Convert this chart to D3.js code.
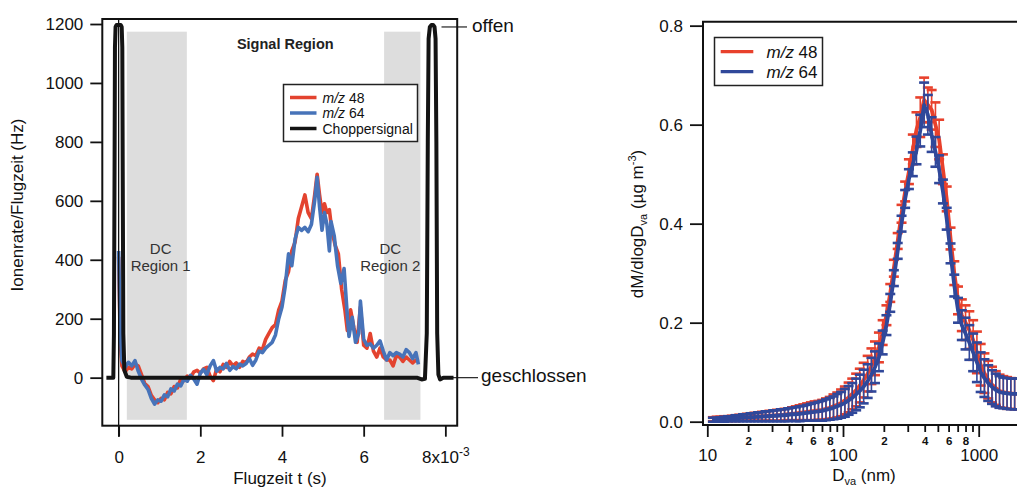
<!DOCTYPE html>
<html><head><meta charset="utf-8">
<script src="https://cdn.jsdelivr.net/npm/d3@7"></script>
<style>
body{margin:0;background:#fff}
svg{display:block}
text{font-family:"Liberation Sans",Arial,sans-serif;fill:#111}
</style>
</head><body>
<svg id="c" width="1017" height="487"></svg>
<script>
// ---------- LEFT PANEL DATA (Flugzeit in 1e-3 s, Ionenrate in Hz) ----------
const ionTicks = [0, 200, 400, 600, 800, 1000, 1200];
const timeTicks = [0, 2, 4, 6, 8];
const dcRegions = [
  {label1: "DC", label2: "Region 1", t0: 0.2, t1: 1.67},
  {label1: "DC", label2: "Region 2", t0: 6.5, t1: 7.39}
];
const mz48Trace = [[0,410],[0.04,120],[0.08,40],[0.16,20],[0.24,35],[0.32,30],[0.40,45],[0.48,40],[0.56,10],[0.64,-20],[0.72,-30],[0.80,-60],[0.88,-75],[0.96,-85],[1.04,-70],[1.12,-75],[1.20,-50],[1.28,-55],[1.36,-30],[1.44,-35],[1.52,-5],[1.60,-10],[1.68,5],[1.76,0],[1.84,20],[1.92,25],[2.00,15],[2.08,30],[2.16,35],[2.24,5],[2.32,-10],[2.40,30],[2.48,20],[2.56,45],[2.64,35],[2.72,55],[2.80,40],[2.88,50],[2.96,35],[3.04,55],[3.12,50],[3.20,70],[3.28,80],[3.36,75],[3.44,100],[3.52,95],[3.60,130],[3.68,150],[3.76,170],[3.84,180],[3.92,230],[4.00,260],[4.08,330],[4.16,360],[4.24,430],[4.32,460],[4.40,540],[4.48,580],[4.56,620],[4.64,560],[4.72,540],[4.80,620],[4.86,690],[4.92,620],[4.98,560],[5.04,590],[5.10,560],[5.16,570],[5.22,500],[5.30,450],[5.38,420],[5.46,300],[5.54,230],[5.60,160],[5.68,230],[5.76,170],[5.84,120],[5.92,240],[6.00,110],[6.08,100],[6.16,150],[6.24,90],[6.32,70],[6.40,100],[6.48,70],[6.56,60],[6.64,60],[6.72,40],[6.80,75],[6.88,70],[6.96,55],[7.04,70],[7.12,60],[7.20,50],[7.28,60],[7.34,55]];
const mz64Trace = [[0,430],[0.04,150],[0.08,58],[0.16,35],[0.24,52],[0.32,40],[0.40,58],[0.48,22],[0.56,-5],[0.64,-25],[0.72,-40],[0.80,-70],[0.88,-90],[0.96,-75],[1.04,-80],[1.12,-58],[1.20,-65],[1.28,-38],[1.36,-45],[1.44,-22],[1.52,-28],[1.60,-5],[1.68,-12],[1.76,8],[1.84,-5],[1.92,-22],[2.00,15],[2.08,28],[2.16,10],[2.24,40],[2.32,58],[2.40,22],[2.48,35],[2.56,30],[2.64,48],[2.72,25],[2.80,38],[2.88,30],[2.96,46],[3.04,40],[3.12,48],[3.20,65],[3.28,42],[3.36,60],[3.44,90],[3.52,85],[3.60,100],[3.68,110],[3.76,120],[3.84,145],[3.92,200],[4.00,240],[4.08,310],[4.16,420],[4.24,380],[4.32,470],[4.40,510],[4.48,500],[4.56,510],[4.64,495],[4.72,520],[4.80,600],[4.86,680],[4.92,580],[4.98,500],[5.04,560],[5.10,520],[5.16,430],[5.20,530],[5.28,480],[5.36,380],[5.44,320],[5.52,370],[5.60,210],[5.64,140],[5.72,205],[5.80,120],[5.88,150],[5.92,260],[6.00,130],[6.08,110],[6.16,115],[6.24,100],[6.32,110],[6.40,125],[6.48,90],[6.56,60],[6.64,85],[6.72,75],[6.80,85],[6.88,80],[6.96,70],[7.04,95],[7.12,85],[7.20,65],[7.28,85],[7.34,45]];
const chopperTrace = [[-0.3,0],[-0.13,0],[-0.115,150],[-0.1,700],[-0.09,1120],[-0.075,1190],[-0.05,1197],[0.05,1197],[0.075,1190],[0.09,1120],[0.1,700],[0.115,150],[0.14,25],[0.2,3],[0.3,0],[7.3,0],[7.42,-6],[7.5,-4],[7.545,150],[7.57,800],[7.59,1150],[7.62,1190],[7.66,1197],[7.7,1197],[7.735,1190],[7.76,1150],[7.78,800],[7.8,150],[7.83,10],[7.87,-6],[7.95,0],[8.2,0]];
const chopperEdgeT = 0;
const offenLevel = 1190;
const geschlossenLevel = 0;

// ---------- RIGHT PANEL DATA ----------
const dva = [11,11.73,12.5,13.33,14.21,15.15,16.15,17.22,18.35,19.57,20.86,22.24,23.7,25.3,26.9,28.7,30.6,32.6,34.8,37.1,39.5,42.1,44.9,47.9,51.0,54.4,58.0,61.8,65.9,70.3,74.9,79.9,85.1,90.8,96.8,103.2,110,117,125,133,142,152,162,172,184,196,209,223,237,253,270,287,306,327,348,371,396,422,450,480,511,545,581,620,661,704,751,800,853,910,970,1034,1102,1175,1253,1336,1424,1518,1618,1725,1840,1961,2090];
const mz64Mean = [0.004,0.004,0.005,0.005,0.006,0.006,0.007,0.007,0.008,0.008,0.009,0.009,0.010,0.010,0.011,0.011,0.012,0.012,0.013,0.013,0.014,0.015,0.015,0.016,0.017,0.018,0.019,0.020,0.021,0.022,0.024,0.026,0.028,0.031,0.034,0.038,0.043,0.048,0.055,0.062,0.071,0.082,0.095,0.110,0.130,0.160,0.195,0.240,0.290,0.345,0.400,0.450,0.490,0.520,0.548,0.588,0.640,0.620,0.580,0.545,0.510,0.465,0.410,0.340,0.275,0.225,0.195,0.178,0.160,0.140,0.120,0.100,0.088,0.078,0.070,0.064,0.060,0.058,0.057,0.056,0.056,0.056,0.056];
const mz64Err = [0.004,0.004,0.004,0.005,0.005,0.005,0.006,0.006,0.007,0.007,0.008,0.008,0.009,0.009,0.010,0.010,0.011,0.011,0.012,0.012,0.013,0.013,0.014,0.015,0.015,0.016,0.017,0.018,0.019,0.020,0.021,0.022,0.023,0.025,0.026,0.028,0.029,0.030,0.032,0.033,0.034,0.034,0.034,0.032,0.028,0.024,0.020,0.018,0.016,0.016,0.016,0.018,0.020,0.024,0.028,0.032,0.045,0.040,0.035,0.030,0.028,0.024,0.022,0.020,0.022,0.025,0.030,0.032,0.035,0.038,0.040,0.040,0.038,0.036,0.034,0.033,0.032,0.031,0.031,0.031,0.031,0.031,0.031];
const mz48Mean = [0.005,0.005,0.006,0.006,0.006,0.007,0.007,0.008,0.008,0.009,0.009,0.010,0.010,0.011,0.011,0.012,0.012,0.013,0.013,0.014,0.015,0.016,0.017,0.018,0.019,0.020,0.021,0.022,0.023,0.024,0.026,0.028,0.031,0.034,0.038,0.043,0.049,0.056,0.064,0.073,0.084,0.097,0.112,0.128,0.150,0.180,0.215,0.260,0.310,0.365,0.420,0.465,0.505,0.550,0.590,0.615,0.650,0.640,0.630,0.600,0.570,0.510,0.450,0.370,0.300,0.245,0.215,0.200,0.185,0.165,0.140,0.115,0.098,0.085,0.075,0.068,0.062,0.060,0.058,0.057,0.056,0.056,0.056];
const mz48Err = [0.004,0.005,0.004,0.005,0.005,0.005,0.006,0.006,0.006,0.007,0.007,0.008,0.008,0.009,0.009,0.010,0.010,0.011,0.011,0.012,0.012,0.013,0.014,0.015,0.016,0.017,0.018,0.019,0.019,0.020,0.021,0.022,0.024,0.025,0.027,0.028,0.030,0.031,0.033,0.034,0.035,0.036,0.036,0.034,0.030,0.025,0.020,0.018,0.017,0.016,0.018,0.020,0.025,0.030,0.035,0.040,0.045,0.035,0.040,0.045,0.040,0.030,0.025,0.022,0.024,0.028,0.032,0.035,0.038,0.040,0.042,0.042,0.040,0.038,0.036,0.034,0.033,0.032,0.032,0.031,0.031,0.031,0.031];
const massTicks = [0.0, 0.2, 0.4, 0.6, 0.8];
const dvaMajorTicks = [10, 100, 1000];
const dvaMinorTicks = [20,30,40,50,60,70,80,90,200,300,400,500,600,700,800,900];

// ---------- COLORS ----------
const colL48 = "#e3432f", colL64 = "#4773b9";
const colR48 = "#e8412c", colR64 = "#30489a";
const grayRegion = "#dddddd";

const svg = d3.select("#c");

// ================= LEFT PANEL =================
const L = {x0: 102.3, x1: 457.2, y0: 19, y1: 425.7};
const xL = d3.scaleLinear().domain([-0.4, 8.29]).range([L.x0, L.x1]);
const yL = d3.scaleLinear().domain([-163, 1217]).range([L.y1, L.y0]);

const gl = svg.append("g");

gl.selectAll("rect.dc").data(dcRegions).join("rect")
  .attr("x", d => xL(d.t0)).attr("width", d => xL(d.t1) - xL(d.t0))
  .attr("y", yL(1174)).attr("height", yL(-143) - yL(1174))
  .attr("fill", grayRegion);

const dcText = gl.selectAll("g.dct").data(dcRegions).join("g");
dcText.append("text").attr("x", (d,i) => i === 0 ? xL(1.03) : xL(6.65)).attr("y", yL(420))
  .attr("text-anchor", "middle").attr("font-size", 15).style("fill", "#333").text(d => d.label1);
dcText.append("text").attr("x", (d,i) => i === 0 ? xL(1.03) : xL(6.65)).attr("y", yL(362))
  .attr("text-anchor", "middle").attr("font-size", 15).style("fill", "#333").text(d => d.label2);

gl.append("text").attr("x", xL(4.08)).attr("y", yL(1115)).attr("text-anchor", "middle")
  .attr("font-size", 14.5).attr("font-weight", "bold").style("fill", "#222").text("Signal Region");

const lineL = d3.line().x(d => xL(d[0])).y(d => yL(d[1]));
gl.append("path").datum(mz48Trace).attr("d", lineL).attr("fill", "none")
  .attr("stroke", colL48).attr("stroke-width", 3.6).attr("stroke-linejoin", "round");
gl.append("path").datum(mz64Trace).attr("d", lineL).attr("fill", "none")
  .attr("stroke", colL64).attr("stroke-width", 3.6).attr("stroke-linejoin", "round");

gl.append("line").attr("x1", xL(chopperEdgeT)).attr("x2", xL(chopperEdgeT))
  .attr("y1", L.y0).attr("y2", L.y1 + 11).attr("stroke", "#111").attr("stroke-width", 1.3);

gl.append("line").attr("x1", xL(8.1)).attr("x2", 478).attr("y1", yL(geschlossenLevel)).attr("y2", yL(geschlossenLevel))
  .attr("stroke", "#222").attr("stroke-width", 1.2);
gl.append("line").attr("x1", 441.5).attr("x2", 467).attr("y1", yL(offenLevel)).attr("y2", yL(offenLevel))
  .attr("stroke", "#222").attr("stroke-width", 1.2);

gl.append("path").datum(chopperTrace).attr("d", d3.line().x(d => xL(d[0])).y(d => yL(d[1])))
  .attr("fill", "none").attr("stroke", "#141414").attr("stroke-width", 4).attr("stroke-linejoin", "round");

gl.append("rect").attr("x", L.x0).attr("y", L.y0).attr("width", L.x1 - L.x0).attr("height", L.y1 - L.y0)
  .attr("fill", "none").attr("stroke", "#111").attr("stroke-width", 2);

const yAxL = gl.append("g").attr("transform", `translate(${L.x0},0)`)
  .call(d3.axisLeft(yL).tickValues(ionTicks).tickSize(12).tickPadding(7).tickFormat(d3.format("d")));
const xAxL = gl.append("g").attr("transform", `translate(0,${L.y1})`)
  .call(d3.axisBottom(xL).tickValues(timeTicks).tickSize(11).tickPadding(14).tickFormat(d3.format("d")));
[yAxL, xAxL].forEach(a => {
  a.select(".domain").remove();
  a.selectAll(".tick line").attr("stroke", "#111").attr("stroke-width", 1.8);
  a.selectAll(".tick text").attr("font-size", 17).attr("font-family", "Liberation Sans, Arial, sans-serif").style("fill", "#111");
});
xAxL.selectAll(".tick text").filter(d => d === 8).each(function() {
  const t = d3.select(this); t.text(null);
  t.append("tspan").text("8x10");
  t.append("tspan").attr("dy", -7).attr("font-size", 12).text("-3");
});

gl.append("text").attr("transform", "translate(23,205) rotate(-90)").attr("text-anchor", "middle")
  .attr("font-size", 17).text("Ionenrate/Flugzeit (Hz)");
gl.append("text").attr("x", 280).attr("y", 484).attr("text-anchor", "middle")
  .attr("font-size", 17).text("Flugzeit t (s)");
gl.append("text").attr("x", 472).attr("y", 32).attr("font-size", 19).text("offen");
gl.append("text").attr("x", 481).attr("y", 382).attr("font-size", 19).text("geschlossen");

const legL = gl.append("g");
legL.append("rect").attr("x", 283.5).attr("y", 84.5).attr("width", 134).attr("height", 57)
  .attr("fill", "#fff").attr("stroke", "#222").attr("stroke-width", 1.5);
const legItems = [
  {c: colL48, it: "m/z", rest: " 48"},
  {c: colL64, it: "m/z", rest: " 64"},
  {c: "#141414", it: "", rest: "Choppersignal"}
];
legItems.forEach((d, i) => {
  const y = 97.5 + i * 15.5;
  legL.append("line").attr("x1", 290).attr("x2", 316.5).attr("y1", y).attr("y2", y)
    .attr("stroke", d.c).attr("stroke-width", 3.5);
  const t = legL.append("text").attr("x", 322.5).attr("y", y + 5).attr("font-size", 14);
  if (d.it) t.append("tspan").attr("font-style", "italic").text(d.it);
  t.append("tspan").text(d.rest);
});

// ================= RIGHT PANEL =================
const R = {x0: 703, x1: 1040, y0: 21.7, y1: 425};
const xR = d3.scaleLog().domain([10, 1000]).range([707.3, 978.7]);
const yR = d3.scaleLinear().domain([-0.0067, 0.808]).range([R.y1, R.y0]);
const gr = svg.append("g");

function drawSeries(mean, err, col) {
  const g = gr.append("g");
  const pts = dva.map((d, i) => ({d, m: mean[i], e: err[i]}));
  g.selectAll("line.eb").data(pts).join("line")
    .attr("x1", p => xR(p.d)).attr("x2", p => xR(p.d))
    .attr("y1", p => yR(p.m - p.e)).attr("y2", p => yR(p.m + p.e))
    .attr("stroke", col).attr("stroke-width", 1.6);
  g.selectAll("line.cu").data(pts).join("line")
    .attr("x1", p => xR(p.d) - 5).attr("x2", p => xR(p.d) + 5)
    .attr("y1", p => yR(p.m + p.e)).attr("y2", p => yR(p.m + p.e))
    .attr("stroke", col).attr("stroke-width", 2.6);
  g.selectAll("line.cl").data(pts).join("line")
    .attr("x1", p => xR(p.d) - 5).attr("x2", p => xR(p.d) + 5)
    .attr("y1", p => yR(p.m - p.e)).attr("y2", p => yR(p.m - p.e))
    .attr("stroke", col).attr("stroke-width", 2.6);
  g.append("path").datum(pts).attr("d", d3.line().x(p => xR(p.d)).y(p => yR(p.m)))
    .attr("fill", "none").attr("stroke", col).attr("stroke-width", 3.8).attr("stroke-linejoin", "round");
}
drawSeries(mz48Mean, mz48Err, colR48);
drawSeries(mz64Mean, mz64Err, colR64);

gr.append("path").attr("d", `M${R.x1},${R.y0}H${R.x0}V${R.y1}H${R.x1}`)
  .attr("fill", "none").attr("stroke", "#111").attr("stroke-width", 2);

const yAxR = gr.append("g").attr("transform", `translate(${R.x0},0)`)
  .call(d3.axisLeft(yR).tickValues(massTicks).tickSize(13).tickPadding(7).tickFormat(d3.format(".1f")));
const xAxRMaj = gr.append("g").attr("transform", `translate(0,${R.y1})`)
  .call(d3.axisBottom(xR).tickValues(dvaMajorTicks).tickSize(12).tickPadding(12).tickFormat(d3.format("d")));
const xAxRMin = gr.append("g").attr("transform", `translate(0,${R.y1})`)
  .call(d3.axisBottom(xR).tickValues(dvaMinorTicks).tickSize(7).tickPadding(5)
    .tickFormat(d => { const f = Math.round(d / Math.pow(10, Math.floor(Math.log10(d) + 1e-9))); return [2,4,6,8].includes(f) ? String(f) : ""; }));
[yAxR, xAxRMaj, xAxRMin].forEach(a => {
  a.select(".domain").remove();
  a.selectAll(".tick line").attr("stroke", "#111").attr("stroke-width", 1.8);
  a.selectAll(".tick text").attr("font-size", 17).attr("font-family", "Liberation Sans, Arial, sans-serif").style("fill", "#111");
});
xAxRMin.selectAll(".tick text").attr("font-size", 11.5).attr("font-weight", "bold");

const ylab = gr.append("text").attr("transform", "translate(643,224) rotate(-90)").attr("text-anchor", "middle").attr("font-size", 17);
ylab.append("tspan").text("dM/dlogD");
ylab.append("tspan").attr("font-size", 11).attr("dy", 4).text("va");
ylab.append("tspan").attr("dy", -4).text(" (µg m");
ylab.append("tspan").attr("font-size", 11).attr("dy", -7).text("-3");
ylab.append("tspan").attr("dy", 7).text(")");

const xlab = gr.append("text").attr("x", 864).attr("y", 481).attr("text-anchor", "middle").attr("font-size", 17);
xlab.append("tspan").text("D");
xlab.append("tspan").attr("font-size", 11).attr("dy", 4).text("va");
xlab.append("tspan").attr("dy", -4).text(" (nm)");

const legR = gr.append("g");
legR.append("rect").attr("x", 714.5).attr("y", 37.5).attr("width", 108).attr("height", 48)
  .attr("fill", "#fff").attr("stroke", "#222").attr("stroke-width", 1.5);
[{c: colR48, rest: " 48"}, {c: colR64, rest: " 64"}].forEach((d, i) => {
  const y = 51.7 + i * 20;
  legR.append("line").attr("x1", 720.7).attr("x2", 753.3).attr("y1", y).attr("y2", y)
    .attr("stroke", d.c).attr("stroke-width", 3.2);
  const t = legR.append("text").attr("x", 766.5).attr("y", y + 6).attr("font-size", 17);
  t.append("tspan").attr("font-style", "italic").text("m/z");
  t.append("tspan").text(d.rest);
});
</script>
</body></html>
